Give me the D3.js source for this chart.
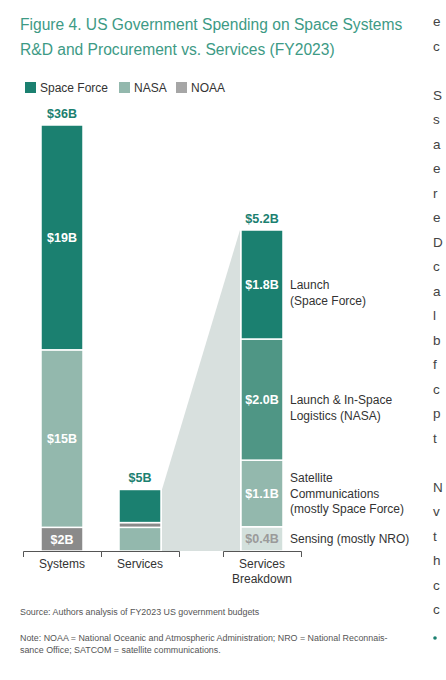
<!DOCTYPE html>
<html>
<head>
<meta charset="utf-8">
<script src="https://cdn.jsdelivr.net/npm/d3@7"></script>
<style>
  html, body { margin: 0; padding: 0; background: #fff; overflow: hidden; }
  svg { display: block; font-family: 'Liberation Sans', Arial, sans-serif; }
</style>
</head>
<body>
<script>
const width = 446;
const height = 680;

// data
const agencies = ['Space Force', 'NASA', 'NOAA'];
const categories = ['Systems', 'Services', 'Services\nBreakdown'];
const systemsValues = [19, 15, 2];          // Space Force, NASA, NOAA
const servicesValues = [2.8, 2.0, 0.4];     // Space Force, NASA, NOAA
const systemsOrder = ['NOAA', 'NASA', 'Space Force'];
const servicesOrder = ['NASA', 'NOAA', 'Space Force'];
const totalLabels = ['$36B', '$5B', '$5.2B'];
const breakdownNames = ['Sensing (mostly NRO)', 'Satellite\nCommunications\n(mostly Space Force)', 'Launch & In-Space\nLogistics (NASA)', 'Launch\n(Space Force)'];
const breakdownValues = [0.4, 1.1, 2.0, 1.8];
const breakdownLabels = ['$0.4B', '$1.1B', '$2.0B', '$1.8B'];
const bodyLetters = ['e', 'c', '', 'S', 's', 'a', 'e', 'r', 'e', 'D', 'c', 'a', 'l', 'b', 'f', 'c', 'p', 't', '', 'N', 'v', 't', 'h', 'c', 'c'];

const color = d3.scaleOrdinal()
  .domain(agencies)
  .range(['#1b8070', '#93b8ad', '#8a8a8a']);
const breakdownColor = ['#d3e0dc', '#93b8ad', '#4f9685', '#1b8070'];
const teal = '#1b8070';

const svg = d3.select('body')
  .append('svg')
    .attr('viewBox', [0, 0, width, height].join(' '))
    .attr('width', width)
    .attr('height', height);

// title
svg.append('g')
  .selectAll('text')
  .data(['Figure 4. US Government Spending on Space Systems', 'R&D and Procurement vs. Services (FY2023)'])
  .enter()
    .append('text')
    .attr('x', 20)
    .attr('y', (d, i) => 30 + i * 25)
    .attr('fill', '#3d9a85')
    .attr('font-size', 15.6)
    .text(d => d);

// legend
const legend = svg.append('g')
  .selectAll('g')
  .data(agencies)
  .enter()
    .append('g')
    .attr('transform', (d, i) => `translate(${[25, 119, 176][i]}, 82)`);

legend.append('rect')
  .attr('width', 11)
  .attr('height', 11)
  .attr('fill', (d, i) => i === 2 ? '#a6a6a6' : color(d));

legend.append('text')
  .attr('x', 15)
  .attr('y', 10)
  .attr('font-size', 12)
  .attr('fill', '#333')
  .text(d => d);

// scales
const y = d3.scaleLinear()
  .domain([0, d3.sum(systemsValues)])
  .range([551, 125]);

const yB = d3.scaleLinear()
  .domain([0, d3.sum(breakdownValues)])
  .range([551, 230]);

const slot = d3.scaleLinear()
  .domain([0, 1])
  .range([23, 101]);
const slots = [0, 1, 2.564];
const band = slot(1) - slot(0);
const barWidth = 42;
const barX = (i) => slot(slots[i]) + (band - barWidth) / 2;

const stackFor = (values, order) => {
  let acc = 0;
  return order.map((name) => {
    const v = values[agencies.indexOf(name)];
    const item = { name: name, y0: acc, y1: acc + v, value: v };
    acc += v;
    return item;
  });
};

const systems = stackFor(systemsValues, systemsOrder);
const services = stackFor(servicesValues, servicesOrder);
const servicesTotal = d3.sum(servicesValues);
const breakdownTop = d3.sum(breakdownValues);

let acc = 0;
const breakdown = breakdownValues.map((v, i) => {
  const item = { name: breakdownNames[i], label: breakdownLabels[i], y0: acc, y1: acc + v, index: i };
  acc += v;
  return item;
});

// zoom wedge
svg.append('path')
  .attr('fill', '#d8e0de')
  .attr('d', d3.line()([
    [barX(1) + barWidth + 1, y(servicesTotal)],
    [barX(2) - 1, yB(breakdownTop)],
    [barX(2) - 1, y(0)],
    [barX(1) + barWidth + 1, y(0)],
  ]));

// bars
const drawStack = (data, i, showLabels) => {
  const g = svg.append('g');

  g.selectAll('rect')
    .data(data)
    .enter()
      .append('rect')
      .attr('x', barX(i))
      .attr('width', barWidth)
      .attr('y', d => y(d.y1))
      .attr('height', d => y(d.y0) - y(d.y1))
      .attr('fill', d => color(d.name))
      .attr('stroke', '#fff')
      .attr('stroke-width', 1.5);

  if (showLabels) {
    g.selectAll('.value')
      .data(data)
      .enter()
        .append('text')
        .attr('x', barX(i) + barWidth / 2)
        .attr('y', d => (y(d.y0) + y(d.y1)) / 2 + 4.5)
        .attr('text-anchor', 'middle')
        .attr('font-size', 12.5)
        .attr('font-weight', 'bold')
        .attr('fill', '#fff')
        .text(d => '$' + d.value + 'B');
  }
};

drawStack(systems, 0, true);
drawStack(services, 1, false);

const bg = svg.append('g');

bg.selectAll('rect')
  .data(breakdown)
  .enter()
    .append('rect')
    .attr('x', barX(2))
    .attr('width', barWidth)
    .attr('y', d => yB(d.y1))
    .attr('height', d => yB(d.y0) - yB(d.y1))
    .attr('fill', d => breakdownColor[d.index])
    .attr('stroke', '#fff')
    .attr('stroke-width', 1.5);

bg.selectAll('.value')
  .data(breakdown)
  .enter()
    .append('text')
    .attr('x', barX(2) + barWidth / 2)
    .attr('y', d => (yB(d.y0) + yB(d.y1)) / 2 + 4.5)
    .attr('text-anchor', 'middle')
    .attr('font-size', 12.5)
    .attr('font-weight', 'bold')
    .attr('fill', d => d.index === 0 ? '#9a9a9a' : '#fff')
    .text(d => d.label);

bg.selectAll('.name')
  .data(breakdown)
  .enter()
    .append('text')
    .attr('font-size', 12)
    .attr('fill', '#333')
    .each(function(d) {
      const lines = d.name.split('\n');
      const mid = (yB(d.y0) + yB(d.y1)) / 2 + 4.5;
      const start = mid - Math.floor((lines.length - 1) / 2) * 15.5;
      d3.select(this).selectAll('tspan')
        .data(lines)
        .enter()
          .append('tspan')
          .attr('x', barX(2) + barWidth + 7)
          .attr('y', (l, j) => start + j * 15.5)
          .text(l => l);
    });

// totals
const totalTops = [y(d3.sum(systemsValues)), y(servicesTotal), yB(breakdownTop)];

svg.append('g')
  .selectAll('text')
  .data(totalLabels)
  .enter()
    .append('text')
    .attr('x', (d, i) => barX(i) + barWidth / 2)
    .attr('y', (d, i) => totalTops[i] - 7)
    .attr('text-anchor', 'middle')
    .attr('font-size', 12.5)
    .attr('font-weight', 'bold')
    .attr('fill', teal)
    .text(d => d);

// category brackets
const axis = svg.append('g')
  .attr('stroke', '#555')
  .attr('stroke-width', 1)
  .attr('fill', 'none');

categories.forEach((c, i) => {
  const x0 = slot(slots[i]) + 0.5;
  const x1 = x0 + band;
  axis.append('path')
    .attr('d', `M${x0},557V551.5H${x1}V557`);
});

svg.append('g')
  .selectAll('text')
  .data(categories)
  .enter()
    .append('text')
    .attr('font-size', 12)
    .attr('fill', '#333')
    .attr('text-anchor', 'middle')
    .each(function(d, i) {
      d3.select(this).selectAll('tspan')
        .data(d.split('\n'))
        .enter()
          .append('tspan')
          .attr('x', slot(slots[i]) + band / 2)
          .attr('y', (l, j) => 568 + j * 15)
          .text(l => l);
    });

// source & note
const foot = svg.append('g')
  .attr('font-size', 8.9)
  .attr('fill', '#555');

foot.append('text')
  .attr('x', 20)
  .attr('y', 615)
  .text('Source: Authors analysis of FY2023 US government budgets');

foot.selectAll('.note')
  .data(['Note: NOAA = National Oceanic and Atmospheric Administration; NRO = National Reconnais-', 'sance Office; SATCOM = satellite communications.'])
  .enter()
    .append('text')
    .attr('x', 20)
    .attr('y', (d, i) => 641 + i * 11.5)
    .text(d => d);

// edge of the neighbouring text column
svg.append('g')
  .selectAll('text')
  .data(bodyLetters)
  .enter()
    .append('text')
    .attr('x', 433)
    .attr('y', (d, i) => 26 + i * 24.5)
    .attr('font-size', 13.5)
    .attr('fill', '#444')
    .text(d => d);

svg.append('circle')
  .attr('cx', 435)
  .attr('cy', 638)
  .attr('r', 1.8)
  .attr('fill', teal);
</script>
</body>
</html>
